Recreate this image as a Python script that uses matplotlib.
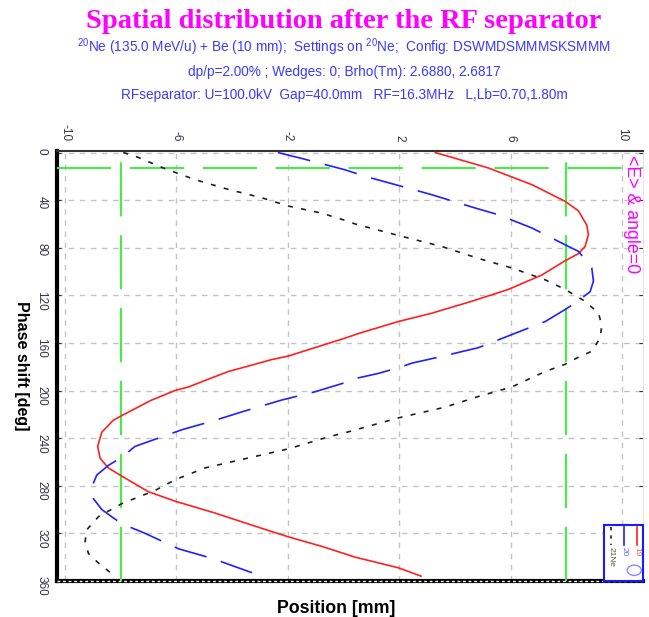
import numpy as np
import matplotlib
matplotlib.use("Agg")
import matplotlib.pyplot as plt
from matplotlib.patches import Rectangle, Circle
from matplotlib.lines import Line2D

plt.rcParams['font.family'] = ['Liberation Sans', 'DejaVu Sans']
plt.rcParams['mathtext.fontset'] = 'custom'
plt.rcParams['mathtext.rm'] = 'Liberation Sans'
plt.rcParams['axes.unicode_minus'] = False

# phase shift [deg] and position [mm]
red_phase = [0, 13, 27, 41, 49, 61, 69, 79, 85, 91, 103, 115, 125, 135, 142, 152, 156,
             171, 174, 181, 184, 197, 200, 208, 221, 225, 235, 247, 257, 265, 272, 285,
             293, 303, 314, 323, 331, 340, 349, 356]
red_pos = [3.29, 5.20, 6.76, 7.95, 8.43, 8.73, 8.79, 8.67, 8.43, 7.95, 7.11, 5.92, 4.60,
           3.17, 1.97, 0.55, 0.05, -1.98, -2.58, -3.66, -4.14, -5.57, -6.05, -6.89, -7.96,
           -8.27, -8.68, -8.83, -8.74, -8.45, -7.96, -7.01, -6.05, -4.61, -3.18, -1.98,
           -0.78, 0.41, 1.97, 2.78]

blue_phase = [0, 5, 14.5, 20, 30, 35.5, 46.6, 52.3, 63.4, 70.4, 77.5, 83, 97, 108, 117,
              126.5, 132, 142, 153, 164, 172, 177, 180, 185.6, 190, 193.4, 201, 208, 218,
              225, 233, 243, 247, 256, 263, 271, 281, 291, 300, 307, 312, 320, 333, 341,
              351, 356]
blue_pos = [-2.36, -1.50, 0.05, 0.77, 2.33, 3.17, 4.72, 5.56, 6.76, 7.35, 7.95, 8.43, 8.91,
            8.97, 8.85, 8.31, 7.95, 7.24, 6.04, 4.84, 3.40, 2.45, 2.09, 1.25, 0.41, 0.05,
            -1.02, -2.22, -3.66, -4.61, -5.81, -7.01, -7.49, -7.96, -8.45, -8.86, -9.04,
            -8.98, -8.68, -8.27, -7.96, -7.13, -5.93, -4.73, -3.54, -2.94]

black_phase = [0, 3, 13.6, 22.8, 31, 38, 45, 51, 57, 60, 69, 79, 89, 97, 107, 115, 125,
               135, 145, 156, 167, 172, 178, 184, 197, 205, 214, 223, 235.5, 239, 249, 258,
               265, 275, 284, 295, 306, 317, 327, 337, 345, 355]
black_pos = [-7.91, -7.49, -6.41, -5.33, -4.14, -2.94, -1.98, -0.78, 0.05, 0.41, 1.85,
             3.53, 4.84, 6.04, 7.24, 7.95, 8.67, 9.15, 9.27, 9.21, 8.91, 8.43, 7.95, 7.24,
             6.04, 4.84, 3.64, 1.97, 0.05, -0.55, -1.98, -3.66, -4.97, -6.05, -6.77, -7.96,
             -8.80, -9.22, -9.28, -9.16, -8.80, -8.27]

slits = [-8.0, 8.0]
phase_cut = 13
x_ticks = [-10, -6, -2, 2, 6, 10]
y_ticks = [0, 40, 80, 120, 160, 200, 240, 280, 320, 360]
legend_labels = ["21Ne", "20", "19"]

fig = plt.figure(figsize=(6.49, 6.17), dpi=100)
ax = fig.add_axes([0.0878, 0.0583, 0.9030, 0.6970])

ax.plot(red_pos, red_phase, color="#ff2020", lw=1.2, zorder=4)
ax.plot(blue_pos, blue_phase, color="#2020ff", lw=1.2, dashes=(20, 9), zorder=4)
ax.plot(black_pos, black_phase, color="#202020", lw=1.2, dashes=(3, 5), zorder=4)

for s in slits:
    ax.axvline(s, color="#44ee44", lw=1.5, dashes=(26, 9), zorder=3)
ax.axhline(phase_cut, color="#44ee44", lw=1.5, dashes=(26, 9), zorder=3)

ax.set_xlim(-10.29, 10.75)
ax.set_ylim(360.1, -1.3)
ax.set_xticks(x_ticks)
ax.set_yticks(y_ticks)
ax.xaxis.tick_top()
ax.tick_params(axis="x", top=True, bottom=False, length=0, pad=7,
               labelrotation=-90, labelsize=8.5, labelcolor="#333344")
ax.tick_params(axis="y", left=True, right=True, direction="in", length=3,
               color="#333333", pad=7, labelrotation=-90, labelsize=8.5,
               labelcolor="#333344")
ax.grid(True, color="#c4c4c4", lw=1, linestyle=(0, (4, 4)))
ax.set_axisbelow(True)

ax.spines["left"].set_linewidth(3)
ax.spines["bottom"].set_linewidth(3)
ax.spines["top"].set_linewidth(1.5)
ax.spines["top"].set_color("#333333")
ax.spines["right"].set_linewidth(0.8)
ax.spines["right"].set_color("#e4e4e4")
ax.axhline(360, color="white", lw=1, dashes=(2, 2), zorder=6, clip_on=False)

ax.set_xlabel("Position [mm]", fontsize=12.8, fontweight="bold")
ax.xaxis.set_label_position("bottom")
ax.xaxis.set_label_coords(0.476, -0.045)
ax.set_ylabel("Phase shift [deg]", fontsize=11.5, fontweight="bold", rotation=-90)
ax.yaxis.set_label_coords(-0.073, 0.50)

ax.text(10.33, 2, "<E> & angle=0", color="#ff00ff", fontsize=12.8, rotation=-90,
        ha="center", va="top", zorder=5)

# legend box drawn rotated like the reference
tr = ax.transAxes
ax.add_patch(Rectangle((0.9334, 0.0), 0.0666, 0.130, transform=tr, fill=True,
                       facecolor="white", edgecolor="#1a1aff", lw=1.5, zorder=7,
                       clip_on=False))
leg_x = [0.945, 0.9676, 0.990]
leg_style = [dict(color="#202020", dashes=(2, 3)), dict(color="#2020ff"),
             dict(color="#ff2020")]
leg_col = ["#555533", "#6666ff", "#ff5555"]
for xx, st, lab, c in zip(leg_x, leg_style, legend_labels, leg_col):
    ax.add_line(Line2D([xx, xx], [0.1256, 0.0837], transform=tr, lw=1.2, zorder=8,
                       clip_on=False, **st))
    ax.text(xx, 0.078, lab, transform=tr, rotation=-90, fontsize=6, color=c,
            ha="center", va="top", zorder=8)
ax.add_patch(Circle((0.985, 0.025), 0.012, transform=tr, fill=False,
                    edgecolor="#8888ff", lw=1, zorder=8))

fig.text(0.53, 0.965, "Spatial distribution after the RF separator", color="#ff00ff",
         fontsize=20.5, fontweight="bold", family="Liberation Serif", ha="center",
         va="center")
sub_col = "#3a3aff"
fig.text(0.53, 0.924, r"$^{20}$Ne (135.0 MeV/u) + Be (10 mm);  Settings on $^{20}$Ne;  "
         "Config: DSWMDSMMMSKSMMM", color=sub_col, fontsize=9.8, ha="center", va="center")
fig.text(0.53, 0.884, "dp/p=2.00% ; Wedges: 0; Brho(Tm): 2.6880, 2.6817",
         color=sub_col, fontsize=9.8, ha="center", va="center")
fig.text(0.53, 0.846, "RFseparator: U=100.0kV  Gap=40.0mm   RF=16.3MHz   L,Lb=0.70,1.80m",
         color=sub_col, fontsize=9.8, ha="center", va="center")

fig.savefig("out.png", dpi=100)
